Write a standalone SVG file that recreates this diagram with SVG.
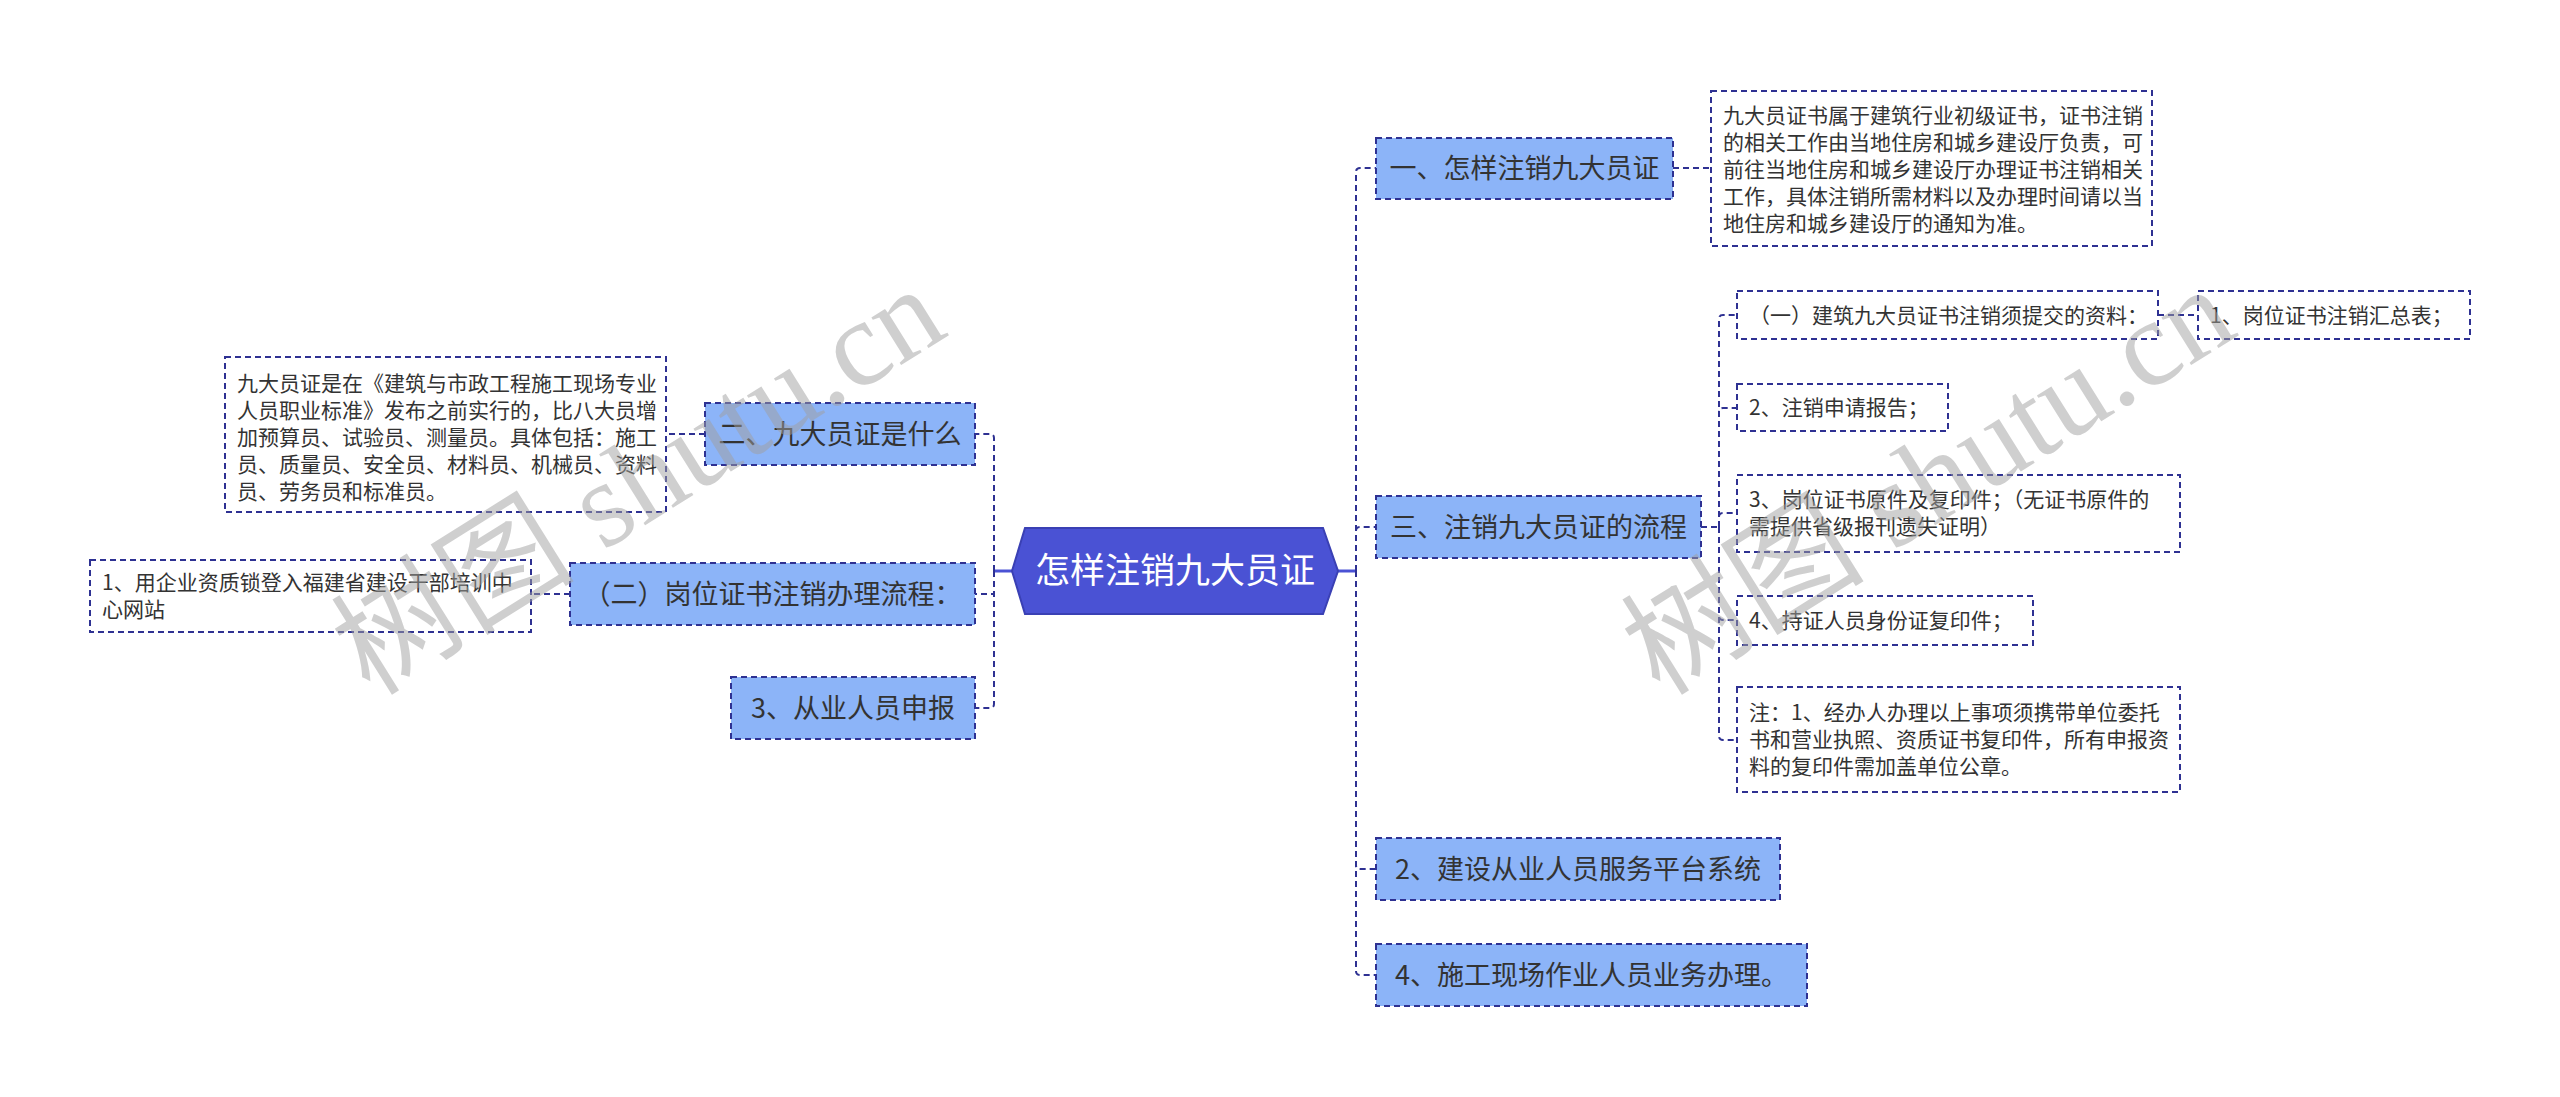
<svg xmlns="http://www.w3.org/2000/svg" width="2560" height="1097" viewBox="0 0 2560 1097">
<style>
.l1{fill:#8cb4f8;stroke:#2e3192;stroke-width:2;stroke-dasharray:6 4}
.bx{fill:#ffffff;stroke:#2e3192;stroke-width:2;stroke-dasharray:6 4}
.t1{font-family:"Noto Sans CJK SC","Noto Sans",sans-serif;font-size:27px;fill:#333333;text-anchor:middle}
.t2{font-family:"Noto Sans CJK SC","Noto Sans",sans-serif;font-size:21px;fill:#333333}
.ct{font-family:"Noto Sans CJK SC","Noto Sans",sans-serif;font-size:35px;fill:#ffffff;text-anchor:middle}
.cn{fill:none;stroke:#2e3192;stroke-width:2;stroke-dasharray:6 4}
.cs{fill:none;stroke:#4a52d4;stroke-width:3}
.wm{fill:#a0a0a0;opacity:0.5}
</style>
<rect width="2560" height="1097" fill="#ffffff"/>

<g id="connectors">
  <path class="cs" d="M994 571 H1012"/>
  <path class="cs" d="M1338 571 H1356"/>
  <path class="cn" d="M994 571 V438 Q994 434 990 434 H975"/>
  <path class="cn" d="M994 571 V594 H975"/>
  <path class="cn" d="M994 571 V704 Q994 708 990 708 H975"/>
  <path class="cn" d="M705 434 H666"/>
  <path class="cn" d="M570 594 H531"/>
  <path class="cn" d="M1356 571 V172 Q1356 168 1360 168 H1376"/>
  <path class="cn" d="M1356 571 V531 Q1356 527 1360 527 H1376"/>
  <path class="cn" d="M1356 571 V865 Q1356 869 1360 869 H1376"/>
  <path class="cn" d="M1356 571 V971 Q1356 975 1360 975 H1376"/>
  <path class="cn" d="M1673 168 H1711"/>
  <path class="cn" d="M1701 527 H1719"/>
  <path class="cn" d="M1719 527 V319 Q1719 315 1723 315 H1737"/>
  <path class="cn" d="M1719 527 V412 Q1719 408 1723 408 H1737"/>
  <path class="cn" d="M1719 527 V517 Q1719 513 1723 513 H1737"/>
  <path class="cn" d="M1719 527 V616 Q1719 620 1723 620 H1737"/>
  <path class="cn" d="M1719 527 V736 Q1719 740 1723 740 H1737"/>
  <path class="cn" d="M2158 315 H2198"/>
</g>

<g id="center">
  <polygon points="1012,571 1025,528 1323,528 1338,571 1323,614 1025,614" fill="#4a52d4" stroke="#3a40b4" stroke-width="2"/>
  <text class="ct" x="1175" y="583">怎样注销九大员证</text>
</g>

<g id="n1">
  <rect class="l1" x="1376" y="138" width="297" height="61"/>
  <text class="t1" x="1524.5" y="178">一、怎样注销九大员证</text>
</g>
<g id="n1d">
  <rect class="bx" x="1711" y="91" width="441" height="155"/>
  <text class="t2" x="1723" y="123">九大员证书属于建筑行业初级证书，证书注销</text>
  <text class="t2" x="1723" y="150">的相关工作由当地住房和城乡建设厅负责，可</text>
  <text class="t2" x="1723" y="177">前往当地住房和城乡建设厅办理证书注销相关</text>
  <text class="t2" x="1723" y="204">工作，具体注销所需材料以及办理时间请以当</text>
  <text class="t2" x="1723" y="231">地住房和城乡建设厅的通知为准。</text>
</g>

<g id="n3">
  <rect class="l1" x="1376" y="496" width="325" height="62"/>
  <text class="t1" x="1538.5" y="537">三、注销九大员证的流程</text>
</g>
<g id="n3a">
  <rect class="bx" x="1737" y="291" width="421" height="48"/>
  <text class="t2" x="1749" y="323">（一）建筑九大员证书注销须提交的资料：</text>
</g>
<g id="n3a1">
  <rect class="bx" x="2198" y="291" width="272" height="48"/>
  <text class="t2" x="2210" y="323">1、岗位证书注销汇总表；</text>
</g>
<g id="n3b">
  <rect class="bx" x="1737" y="384" width="211" height="47"/>
  <text class="t2" x="1749" y="415">2、注销申请报告；</text>
</g>
<g id="n3c">
  <rect class="bx" x="1737" y="475" width="443" height="77"/>
  <text class="t2" x="1749" y="507">3、岗位证书原件及复印件；（无证书原件的</text>
  <text class="t2" x="1749" y="534">需提供省级报刊遗失证明）</text>
</g>
<g id="n3d">
  <rect class="bx" x="1737" y="596" width="296" height="49"/>
  <text class="t2" x="1749" y="628">4、持证人员身份证复印件；</text>
</g>
<g id="n3e">
  <rect class="bx" x="1737" y="687" width="443" height="105"/>
  <text class="t2" x="1749" y="720">注：1、经办人办理以上事项须携带单位委托</text>
  <text class="t2" x="1749" y="747">书和营业执照、资质证书复印件，所有申报资</text>
  <text class="t2" x="1749" y="774">料的复印件需加盖单位公章。</text>
</g>

<g id="n4">
  <rect class="l1" x="1376" y="838" width="404" height="62"/>
  <text class="t1" x="1578" y="879">2、建设从业人员服务平台系统</text>
</g>
<g id="n5">
  <rect class="l1" x="1376" y="944" width="431" height="62"/>
  <text class="t1" x="1591.5" y="985">4、施工现场作业人员业务办理。</text>
</g>

<g id="n2">
  <rect class="l1" x="705" y="403" width="270" height="62"/>
  <text class="t1" x="840" y="444">二、九大员证是什么</text>
</g>
<g id="n2d">
  <rect class="bx" x="225" y="357" width="441" height="155"/>
  <text class="t2" x="237" y="391">九大员证是在《建筑与市政工程施工现场专业</text>
  <text class="t2" x="237" y="418">人员职业标准》发布之前实行的，比八大员增</text>
  <text class="t2" x="237" y="445">加预算员、试验员、测量员。具体包括：施工</text>
  <text class="t2" x="237" y="472">员、质量员、安全员、材料员、机械员、资料</text>
  <text class="t2" x="237" y="499">员、劳务员和标准员。</text>
</g>
<g id="n6">
  <rect class="l1" x="570" y="563" width="405" height="62"/>
  <text class="t1" x="772.5" y="604">（二）岗位证书注销办理流程：</text>
</g>
<g id="n6a">
  <rect class="bx" x="90" y="560" width="441" height="72"/>
  <text class="t2" x="102" y="590">1、用企业资质锁登入福建省建设干部培训中</text>
  <text class="t2" x="102" y="617">心网站</text>
</g>
<g id="n7">
  <rect class="l1" x="731" y="677" width="244" height="62"/>
  <text class="t1" x="853" y="718">3、从业人员申报</text>
</g>

<g id="watermarks">
  <text class="wm" x="370" y="697" transform="rotate(-32 370 697)" font-size="122"><tspan font-family="Noto Sans CJK SC, sans-serif">树图</tspan><tspan font-family="Liberation Serif, serif"> shutu.cn</tspan></text>
  <text class="wm" x="1660" y="697" transform="rotate(-32 1660 697)" font-size="122"><tspan font-family="Noto Sans CJK SC, sans-serif">树图</tspan><tspan font-family="Liberation Serif, serif"> shutu.cn</tspan></text>
</g>
</svg>
